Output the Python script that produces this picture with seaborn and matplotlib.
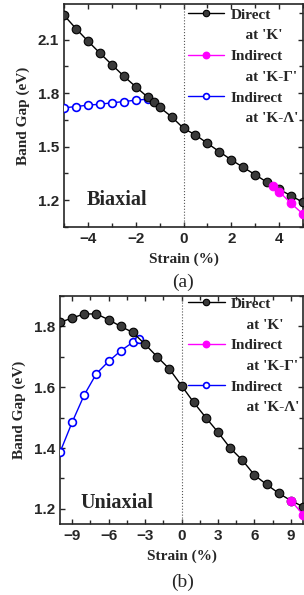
import numpy as np
import pandas as pd
import matplotlib
matplotlib.use('Agg')
import matplotlib.pyplot as plt
from matplotlib.lines import Line2D
from matplotlib.ticker import MultipleLocator
import seaborn as sns

# =====================================================
# DATA
# =====================================================
# (a) biaxial strain
bi_direct_x = [-5, -4.5, -4, -3.5, -3, -2.5, -2, -1.5, -1.25, -1, -0.5, 0,
               0.5, 1, 1.5, 2, 2.5, 3, 3.5, 4, 4.5, 5]
bi_direct_y = [2.237, 2.162, 2.092, 2.025, 1.960, 1.896, 1.836, 1.778, 1.752, 1.721,
               1.668, 1.603, 1.566, 1.519, 1.472, 1.426, 1.384, 1.343, 1.300,
               1.261, 1.225, 1.188]
bi_kg_x = [3.75, 4, 4.5, 5]
bi_kg_y = [1.280, 1.248, 1.182, 1.122]
bi_kl_x = [-5, -4.5, -4, -3.5, -3, -2.5, -2, -1.5]
bi_kl_y = [1.718, 1.725, 1.733, 1.738, 1.746, 1.753, 1.761, 1.766]

# (b) uniaxial strain
uni_direct_x = list(range(-10, 11))
uni_direct_y = [1.813, 1.828, 1.841, 1.841, 1.822, 1.800, 1.780, 1.741, 1.700, 1.660,
                1.605, 1.550, 1.500, 1.452, 1.400, 1.360, 1.311, 1.280, 1.251,
                1.227, 1.207]
uni_kg_x = [9, 10]
uni_kg_y = [1.227, 1.181]
uni_kl_x = [-10, -9, -8, -7, -6, -5, -4, -3.5]
uni_kl_y = [1.386, 1.485, 1.575, 1.645, 1.685, 1.720, 1.748, 1.759]

legend_labels = ["Direct", "    at 'K'", "Indirect", "    at 'K-Γ'", "Indirect", "    at 'K-Λ'"]

# =====================================================
# STYLE
# =====================================================
sns.set_theme(style='ticks')
plt.rcParams['font.family'] = ['Liberation Serif', 'DejaVu Serif']

SANS = ['Liberation Sans', 'DejaVu Sans']

fig = plt.figure(figsize=(3.04, 5.95), dpi=100)
ax_a = fig.add_axes([0.2105, 0.6185, 0.7865, 0.3748])
ax_b = fig.add_axes([0.1974, 0.1193, 0.7996, 0.3832])

direct_kw = dict(color='black', marker='o', markersize=6.2, markerfacecolor='#3a3a3a',
                 markeredgecolor='black', markeredgewidth=0.8, linewidth=1.0)
kg_kw = dict(color='#ff00ff', marker='o', markersize=6.2, markerfacecolor='#ff00ff',
             markeredgecolor='#ff00ff', linewidth=1.0)
kl_kw = dict(color='#0000ff', marker='o', markersize=5.6, markerfacecolor='white',
             markeredgecolor='#0000ff', markeredgewidth=1.2, linewidth=1.0)


def draw_panel(ax, dx, dy, gx, gy, lx, ly):
    ax.axvline(0, color='#555555', linestyle=':', linewidth=0.8, zorder=1)
    sns.lineplot(x=lx, y=ly, ax=ax, zorder=3, **kl_kw)
    sns.lineplot(x=dx, y=dy, ax=ax, zorder=4, **direct_kw)
    sns.lineplot(x=gx, y=gy, ax=ax, zorder=5, **kg_kw)


def style_axes(ax):
    ax.tick_params(which='both', direction='in', top=True, right=True, width=1.0)
    ax.tick_params(which='major', length=3.5)
    ax.tick_params(which='minor', length=3.0)
    for lab in ax.get_xticklabels() + ax.get_yticklabels():
        lab.set_family(SANS)
        lab.set_fontweight('bold')
        lab.set_fontsize(11)
    for sp in ax.spines.values():
        sp.set_linewidth(1.2)
        sp.set_visible(True)
    ax.set_ylabel('Band Gap (eV)', fontsize=11, fontweight='bold', labelpad=6)
    ax.set_xlabel('Strain (%)', fontsize=11, fontweight='bold', labelpad=5)


def add_legend(ax, anchor):
    handles = [
        Line2D([], [], **direct_kw), Line2D([], [], linestyle='none'),
        Line2D([], [], **kg_kw), Line2D([], [], linestyle='none'),
        Line2D([], [], **kl_kw), Line2D([], [], linestyle='none'),
    ]
    leg = ax.legend(handles, legend_labels, loc='upper left', bbox_to_anchor=anchor,
                    frameon=False, borderpad=0, borderaxespad=0, handlelength=2.4,
                    handletextpad=0.4, labelspacing=0.46, markerscale=0.75,
                    prop=dict(family=['Liberation Serif', 'DejaVu Serif'], weight='bold', size=11))
    leg.set_zorder(10)


# =====================================================
# (a) BIAXIAL
# =====================================================
draw_panel(ax_a, bi_direct_x, bi_direct_y, bi_kg_x, bi_kg_y, bi_kl_x, bi_kl_y)
ax_a.set_xlim(-5, 5)
ax_a.set_ylim(1.05, 2.3)
ax_a.xaxis.set_major_locator(MultipleLocator(2))
ax_a.xaxis.set_minor_locator(MultipleLocator(1))
ax_a.set_yticks([1.2, 1.5, 1.8, 2.1])
ax_a.set_yticklabels(['1.2', '1.5', '1.8', '2.1'])
ax_a.yaxis.set_minor_locator(MultipleLocator(0.15))
style_axes(ax_a)
add_legend(ax_a, (0.517, 0.982))
ax_a.text(-4.05, 1.2, 'Biaxial', fontsize=14.5, fontweight='bold', va='center', ha='left')
fig.text(0.602, 1 - 282 / 595, '(a)', fontsize=14, ha='center', va='center')

# =====================================================
# (b) UNIAXIAL
# =====================================================
draw_panel(ax_b, uni_direct_x, uni_direct_y, uni_kg_x, uni_kg_y, uni_kl_x, uni_kl_y)
ax_b.set_xlim(-10, 10)
ax_b.set_ylim(1.15, 1.9)
ax_b.set_xticks([-9, -6, -3, 0, 3, 6, 9])
ax_b.xaxis.set_minor_locator(MultipleLocator(1.5))
ax_b.set_yticks([1.2, 1.4, 1.6, 1.8])
ax_b.set_yticklabels(['1.2', '1.4', '1.6', '1.8'])
ax_b.yaxis.set_minor_locator(MultipleLocator(0.1))
style_axes(ax_b)
add_legend(ax_b, (0.527, 0.995))
ax_b.text(-8.3, 1.22, 'Uniaxial', fontsize=14.5, fontweight='bold', va='center', ha='left')
fig.text(0.602, 1 - 582 / 595, '(b)', fontsize=14, ha='center', va='center')

fig.savefig('out.png', dpi=100)
